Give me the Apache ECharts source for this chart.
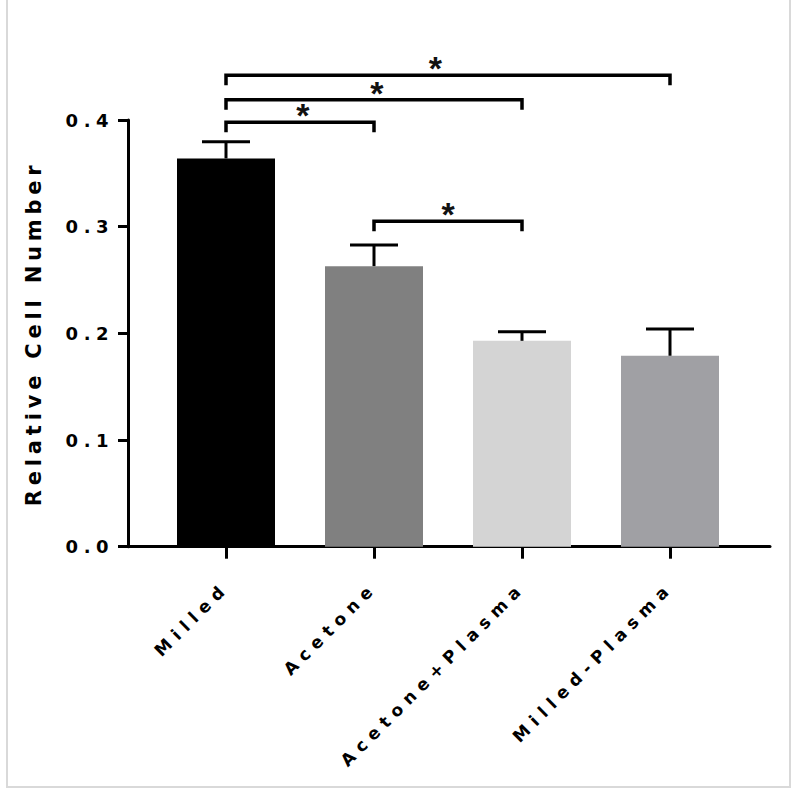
<!DOCTYPE html>
<html><head><meta charset="utf-8">
<script src="https://cdn.jsdelivr.net/npm/echarts@6/dist/echarts.min.js"></script>
<style>
html,body{margin:0;padding:0;background:#fff;}
#chart{width:800px;height:796px;}
#chart text[style*="18px"]{letter-spacing:5.5px;}
#chart text[style*="17px"]{letter-spacing:6.5px;}
#chart text[style*="21px"]{letter-spacing:4.8px;}
</style></head><body><div id="chart"></div>
<script>
// ---- data ----
const categories = ['Milled', 'Acetone', 'Acetone+Plasma', 'Milled-Plasma'];
const means = [0.364, 0.263, 0.193, 0.179];
const upperErrors = [0.0156, 0.0198, 0.0085, 0.025];
const barColors = ['#000000', '#808080', '#d4d4d4', '#a0a0a4'];
const yTickValues = [0, 0.1, 0.2, 0.3, 0.4];
const yTickLabels = ['0.0', '0.1', '0.2', '0.3', '0.4'];
// significance brackets
const bracketFrom = [0, 0, 0, 1];
const bracketTo = [3, 2, 1, 2];
const bracketY = [0.442, 0.419, 0.398, 0.305];
const bracketStarX = [1.415, 1.02, 0.52, 1.5];
const bracketLabels = ['*', '*', '*', '*'];

const FONT = "'DejaVu Sans', sans-serif";
const chart = echarts.init(document.getElementById('chart'), null, {renderer: 'svg', width: 800, height: 796});

const errData = means.map((m, i) => [i, m, m + upperErrors[i]]);
const brData = bracketFrom.map((f, i) => [f, bracketTo[i], bracketY[i], bracketStarX[i], i]);

chart.setOption({
  animation: false,
  backgroundColor: '#ffffff',
  graphic: [{
    type: 'rect', silent: true,
    shape: {x: 7, y: -5, width: 783, height: 792},
    style: {fill: 'none', stroke: '#d9d9d9', lineWidth: 2}
  }],
  grid: [
    {left: 128, right: 30, top: 120, bottom: 249.3},
    {left: 152, right: 56, top: 120, bottom: 249.3}
  ],
  xAxis: [
    {type: 'value', gridIndex: 0, min: 0, max: 1,
     axisLine: {show: true, lineStyle: {color: '#000', width: 3}},
     axisTick: {show: false}, axisLabel: {show: false}, splitLine: {show: false}},
    {type: 'category', gridIndex: 1, data: categories,
     axisLine: {show: false},
     axisTick: {show: true, alignWithLabel: true, length: 12, lineStyle: {color: '#000', width: 3}},
     axisLabel: {interval: 0, rotate: 45, margin: 38, color: '#000', fontSize: 17, fontWeight: 'bold', fontFamily: FONT},
     splitLine: {show: false}}
  ],
  yAxis: [
    {type: 'value', gridIndex: 0, min: 0, max: 0.4, interval: 0.1,
     axisLine: {show: true, lineStyle: {color: '#000', width: 3}},
     axisTick: {show: true, inside: false, length: 10, lineStyle: {color: '#000', width: 3}},
     axisLabel: {margin: 14, color: '#000', fontSize: 18, fontWeight: 'bold', fontFamily: FONT,
       formatter: v => { const k = yTickValues.findIndex(t => Math.abs(t - v) < 1e-9); return k >= 0 ? yTickLabels[k] : ''; }},
     splitLine: {show: false},
     name: 'Relative Cell Number', nameLocation: 'middle', nameGap: 84, nameRotate: 90,
     nameTextStyle: {color: '#000', fontSize: 21, fontWeight: 'bold', fontFamily: FONT}},
    {type: 'value', gridIndex: 1, min: 0, max: 0.4, interval: 0.1, show: false}
  ],
  series: [
    {type: 'bar', xAxisIndex: 1, yAxisIndex: 1, barWidth: 98,
     data: means.map((v, i) => ({value: v, itemStyle: {color: barColors[i]}}))},
    {type: 'custom', xAxisIndex: 1, yAxisIndex: 1, z: 5,
     data: errData,
     renderItem: function (params, api) {
       const i = api.value(0);
       const base = api.coord([i, api.value(1)]);
       const top = api.coord([i, api.value(2)]);
       const half = 24;
       return {type: 'group', children: [
         {type: 'line', shape: {x1: base[0], y1: base[1], x2: top[0], y2: top[1]}, style: {stroke: '#000', lineWidth: 3}},
         {type: 'line', shape: {x1: top[0] - half, y1: top[1], x2: top[0] + half, y2: top[1]}, style: {stroke: '#000', lineWidth: 3}}
       ]};
     }},
    {type: 'custom', xAxisIndex: 1, yAxisIndex: 1, z: 6, clip: false,
     data: brData,
     renderItem: function (params, api) {
       const f = api.value(0), t = api.value(1), y = api.value(2), sx = api.value(3), k = api.value(4);
       const a = api.coord([f, y]);
       const b = api.coord([t, y]);
       const drop = 10;
       const c0 = api.coord([0, y]), c1 = api.coord([1, y]);
       const starX = c0[0] + sx * (c1[0] - c0[0]);
       return {type: 'group', children: [
         {type: 'polyline', shape: {points: [[a[0], a[1] + drop], [a[0], a[1]], [b[0], b[1]], [b[0], b[1] + drop]]},
          style: {stroke: '#000', lineWidth: 3.5, fill: 'none'}},
         {type: 'text', style: {text: bracketLabels[k], x: starX, y: a[1] - 7, fill: '#111',
           fontSize: 34, fontWeight: 'bold', fontFamily: "'Liberation Sans', Arial, sans-serif", align: 'center', verticalAlign: 'middle'}}
       ]};
     }}
  ]
});
</script></body></html>
